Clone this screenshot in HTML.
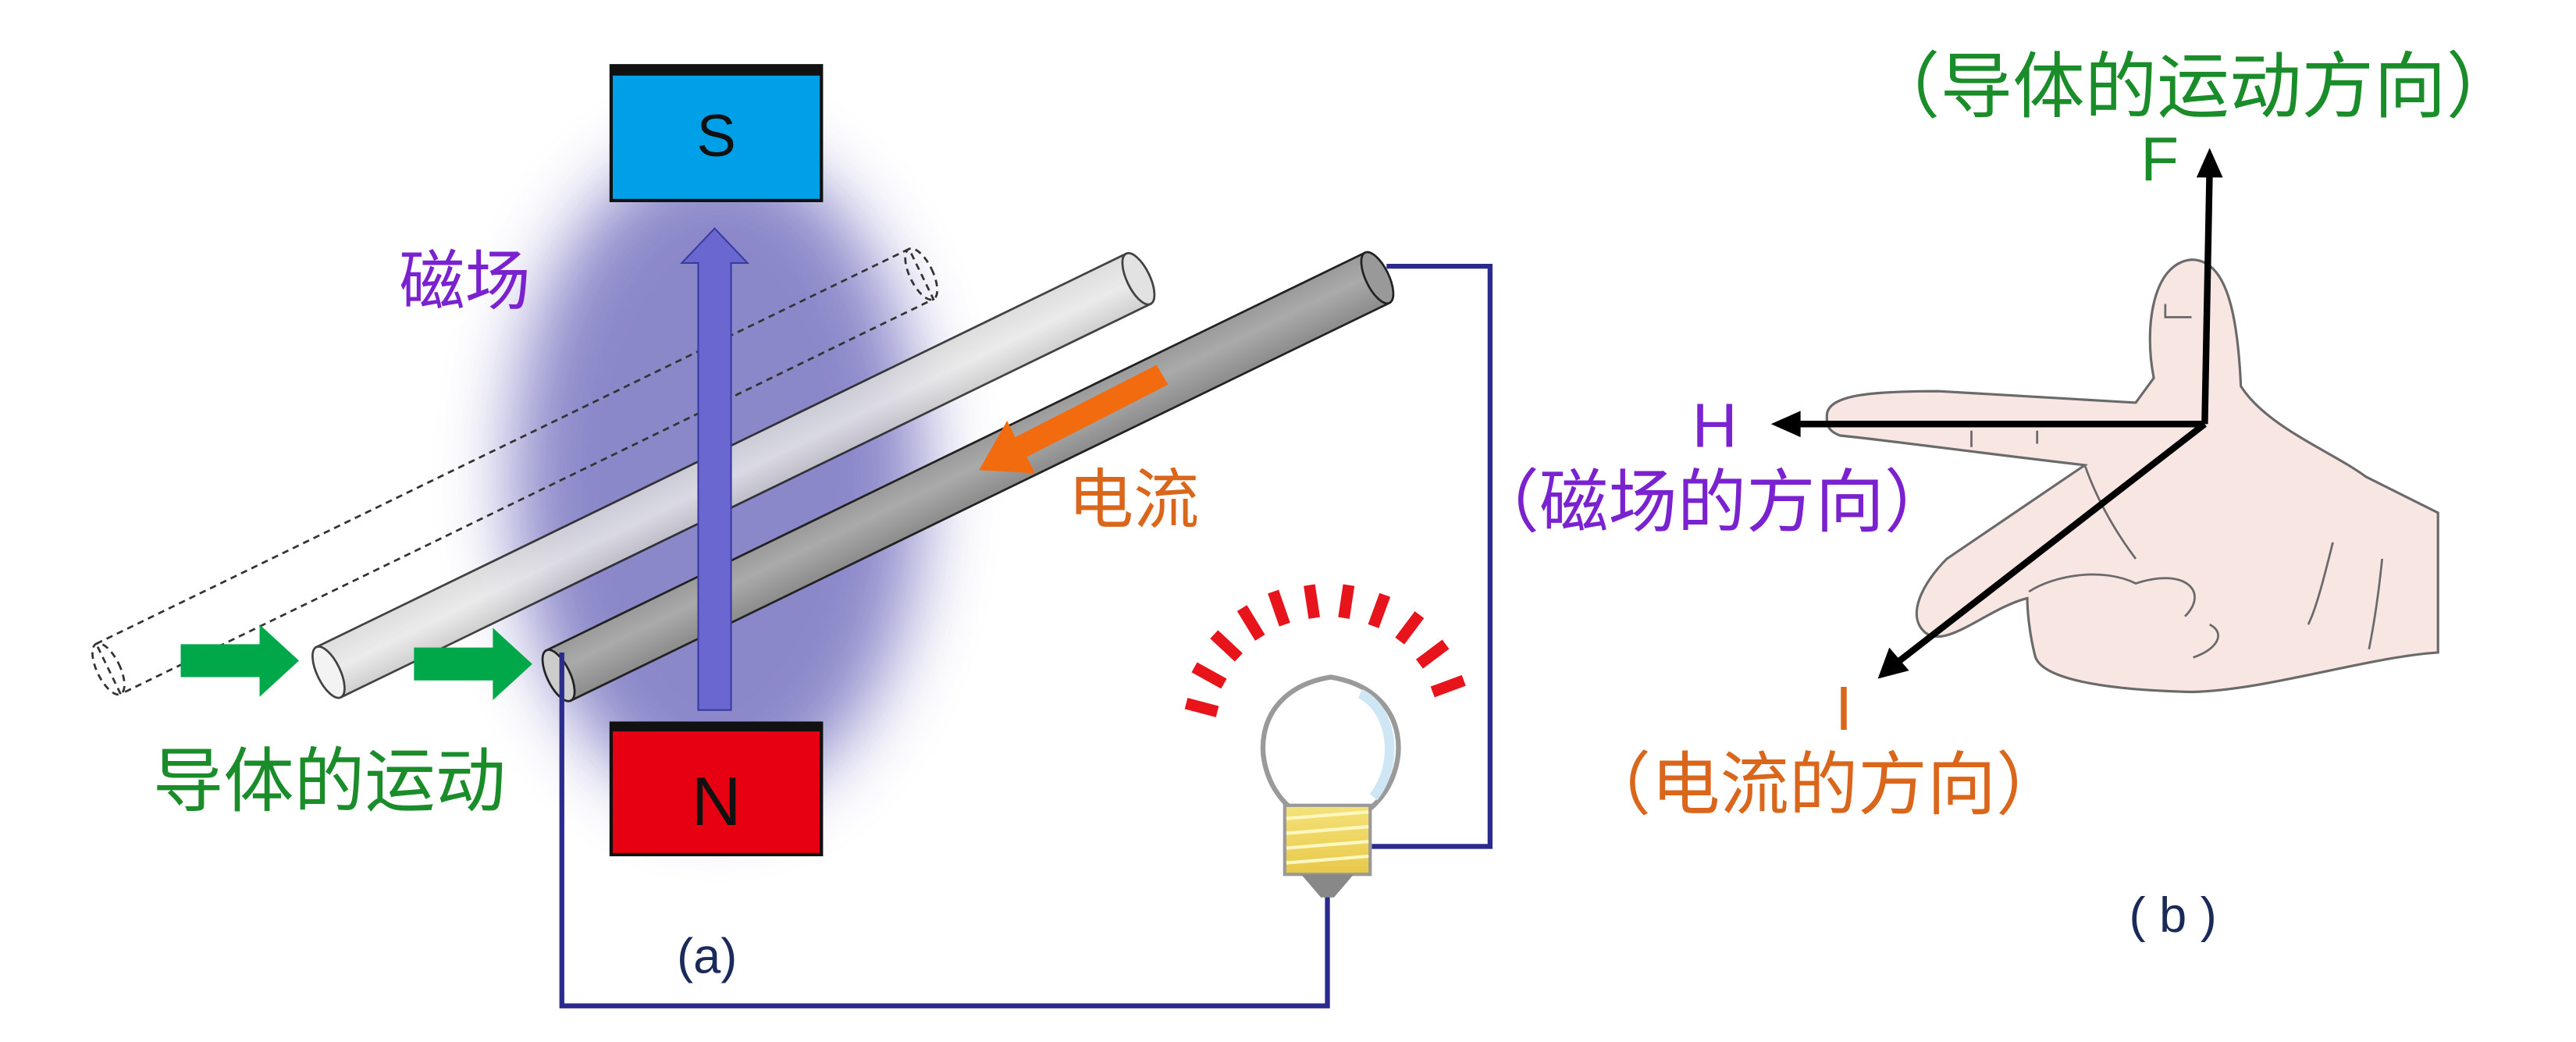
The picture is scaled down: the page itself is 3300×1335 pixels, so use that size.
<!DOCTYPE html>
<html><head><meta charset="utf-8"><style>
html,body{margin:0;padding:0;background:#fff;}
svg{display:block;}
text{font-family:"Liberation Sans","Noto Sans CJK SC",sans-serif;}
</style></head><body>
<svg width="3300" height="1335" viewBox="0 0 1568 634" preserveAspectRatio="none" xmlns="http://www.w3.org/2000/svg">
<defs>
<filter id="blur" x="-50%" y="-50%" width="200%" height="200%"><feGaussianBlur stdDeviation="22"/></filter>
<linearGradient id="lg" x1="0" y1="0" x2="0" y2="1"><stop offset="0" stop-color="#d8d8d8"/><stop offset="0.5" stop-color="#e8e8e8"/><stop offset="1" stop-color="#c8c8c8"/></linearGradient>
<linearGradient id="dg" x1="0" y1="0" x2="0" y2="1"><stop offset="0" stop-color="#9a9a9a"/><stop offset="0.4" stop-color="#aaaaaa"/><stop offset="1" stop-color="#8c8c8c"/></linearGradient>
<linearGradient id="yg" x1="0" y1="0" x2="0" y2="1"><stop offset="0" stop-color="#f5e27a"/><stop offset="1" stop-color="#e8c84a"/></linearGradient>
</defs>
<ellipse cx="437" cy="290" rx="125" ry="200" fill="#7f7cc4" opacity="0.9" filter="url(#blur)"/>
<g transform="translate(66,407) rotate(-25.9)">
<rect x="0" y="-17" width="550" height="34" fill="none" stroke="#333" stroke-width="1.3" stroke-dasharray="4,3"/>
<ellipse cx="0" cy="0" rx="7" ry="17" fill="none" stroke="#333" stroke-width="1.3" stroke-dasharray="4,3"/>
<ellipse cx="550" cy="0" rx="7" ry="17" fill="none" stroke="#333" stroke-width="1.3" stroke-dasharray="4,3"/>
</g>
<g transform="translate(200,409) rotate(-25.9)" opacity="0.85">
<rect x="0" y="-17" width="548" height="34" fill="url(#lg)" stroke="#222" stroke-width="1.3"/>
<ellipse cx="548" cy="0" rx="7" ry="17" fill="#ddd" stroke="#222" stroke-width="1.3"/>
<ellipse cx="0" cy="0" rx="7" ry="17" fill="#f2f2f2" stroke="#222" stroke-width="1.3"/>
</g>
<g transform="translate(340,411) rotate(-25.9)">
<rect x="0" y="-17" width="554" height="34" fill="url(#dg)" stroke="#222" stroke-width="1.3"/>
<ellipse cx="554" cy="0" rx="7" ry="17" fill="#999" stroke="#222" stroke-width="1.3"/>
<ellipse cx="0" cy="0" rx="7" ry="17" fill="#ccc" stroke="#222" stroke-width="1.3"/>
</g>
<rect x="372" y="40" width="128" height="82" fill="#00a0e9" stroke="#111" stroke-width="2"/>
<rect x="372" y="40" width="128" height="6" fill="#111"/>
<text x="436" y="95" font-size="36" text-anchor="middle" fill="#111">S</text>
<rect x="372" y="440" width="128" height="80" fill="#e60012" stroke="#111" stroke-width="2"/>
<rect x="372" y="440" width="128" height="5" fill="#111"/>
<text x="436" y="502" font-size="42" text-anchor="middle" fill="#111">N</text>
<path d="M425,432 L425,160 L415,160 L435,139 L455,160 L445,160 L445,432 Z" fill="#6a68d0" stroke="#3a3aa0" stroke-width="1"/>
<path d="M110,392 L158,392 L158,380 L182,402 L158,424 L158,412 L110,412 Z" fill="#00a84a"/>
<path d="M252,394 L300,394 L300,382 L324,404 L300,426 L300,414 L252,414 Z" fill="#00a84a"/>
<path d="M704,222 L618,266 L613,256 L596,286 L630,288 L625,278 L711,234 Z" fill="#f26b0f"/>
<path d="M342,397 L342,612 L808,612 L808,545" fill="none" stroke="#2b2b8f" stroke-width="3"/>
<path d="M844,162 L907,162 L907,515 L835,515" fill="none" stroke="#2b2b8f" stroke-width="3"/>
<g stroke="#e8141b" stroke-width="7">
<line x1="741" y1="433" x2="722" y2="428"/>
<line x1="745" y1="416" x2="727" y2="406"/>
<line x1="754" y1="400" x2="739" y2="386"/>
<line x1="767" y1="388" x2="756" y2="370"/>
<line x1="782" y1="380" x2="775" y2="360"/>
<line x1="800" y1="376" x2="797" y2="356"/>
<line x1="818" y1="376" x2="821" y2="356"/>
<line x1="836" y1="381" x2="843" y2="362"/>
<line x1="852" y1="390" x2="864" y2="374"/>
<line x1="864" y1="404" x2="880" y2="392"/>
<line x1="872" y1="421" x2="891" y2="414"/>
</g>
<path d="M786,492 C760,470 760,420 810,412 C860,420 860,470 834,492 Z" fill="#fff" stroke="#9a9a9a" stroke-width="3"/>
<path d="M828,422 C848,432 852,465 836,485" fill="none" stroke="#cfe6f5" stroke-width="6"/>
<rect x="782" y="490" width="52" height="42" fill="url(#yg)" stroke="#999" stroke-width="2"/>
<g stroke="#fff7c0" stroke-width="2"><line x1="783" y1="498" x2="833" y2="494"/><line x1="783" y1="507" x2="833" y2="503"/><line x1="783" y1="516" x2="833" y2="512"/><line x1="783" y1="525" x2="833" y2="521"/></g>
<path d="M792,532 L824,532 L812,546 L804,546 Z" fill="#888"/>
<text x="243" y="185" font-size="40" fill="#7a22d0">磁场</text>
<text x="650" y="318" font-size="40" fill="#d9661a">电流</text>
<text x="93" y="490" font-size="43" fill="#1a8c2a">导体的运动</text>
<text x="412" y="592" font-size="30" fill="#1a2b5a">(a)</text>
<path d="M1112,253 C1112,240 1140,238 1180,238 L1300,245 L1311,230 C1305,200 1310,160 1334,158 C1355,158 1362,190 1364,235 C1380,260 1420,275 1440,290 L1484,312 L1484,397 C1440,400 1380,420 1334,421 C1290,420 1245,415 1239,400 C1235,385 1234,370 1234,364 C1210,370 1185,395 1172,385 C1160,375 1170,355 1185,340 L1269,283 C1200,275 1150,268 1120,265 C1112,262 1112,258 1112,253 Z" fill="#f8e6e3" stroke="#6a6a6a" stroke-width="1.5"/>
<g fill="none" stroke="#6a6a6a" stroke-width="1.3">
<path d="M1318,185 L1318,193 L1334,193"/>
<path d="M1200,262 L1200,272 M1240,262 L1240,270"/>
<path d="M1269,283 C1275,300 1285,320 1300,340"/>
<path d="M1235,360 C1250,350 1280,345 1300,355 C1330,345 1345,360 1330,375"/>
<path d="M1335,400 C1350,395 1355,385 1345,380"/>
<path d="M1420,330 C1415,350 1410,370 1405,380"/>
<path d="M1450,340 C1448,360 1445,380 1442,395"/>
</g>
<g stroke="#000" stroke-width="4" fill="none">
<line x1="1342" y1="258" x2="1345" y2="102"/>
<line x1="1342" y1="258" x2="1092" y2="258"/>
<line x1="1342" y1="258" x2="1155" y2="403"/>
</g>
<path d="M1345,90 L1337,108 L1353,108 Z" fill="#000"/>
<path d="M1078,258 L1096,250 L1096,266 Z" fill="#000"/>
<path d="M1143,413 L1150,394 L1162,408 Z" fill="#000"/>
<text x="1137" y="68" font-size="44" fill="#1a8c2a">（导体的运动方向）</text>
<text x="1303" y="110" font-size="38" fill="#1a8c2a">F</text>
<text x="1030" y="272" font-size="38" fill="#7a22d0">H</text>
<text x="895" y="320" font-size="42" fill="#7a22d0">（磁场的方向）</text>
<text x="1117" y="444" font-size="38" fill="#d9661a">I</text>
<text x="963" y="492" font-size="42" fill="#d9661a">（电流的方向）</text>
<text x="1296" y="567" font-size="30" fill="#1a2b5a">( b )</text>
</svg>
</body></html>
